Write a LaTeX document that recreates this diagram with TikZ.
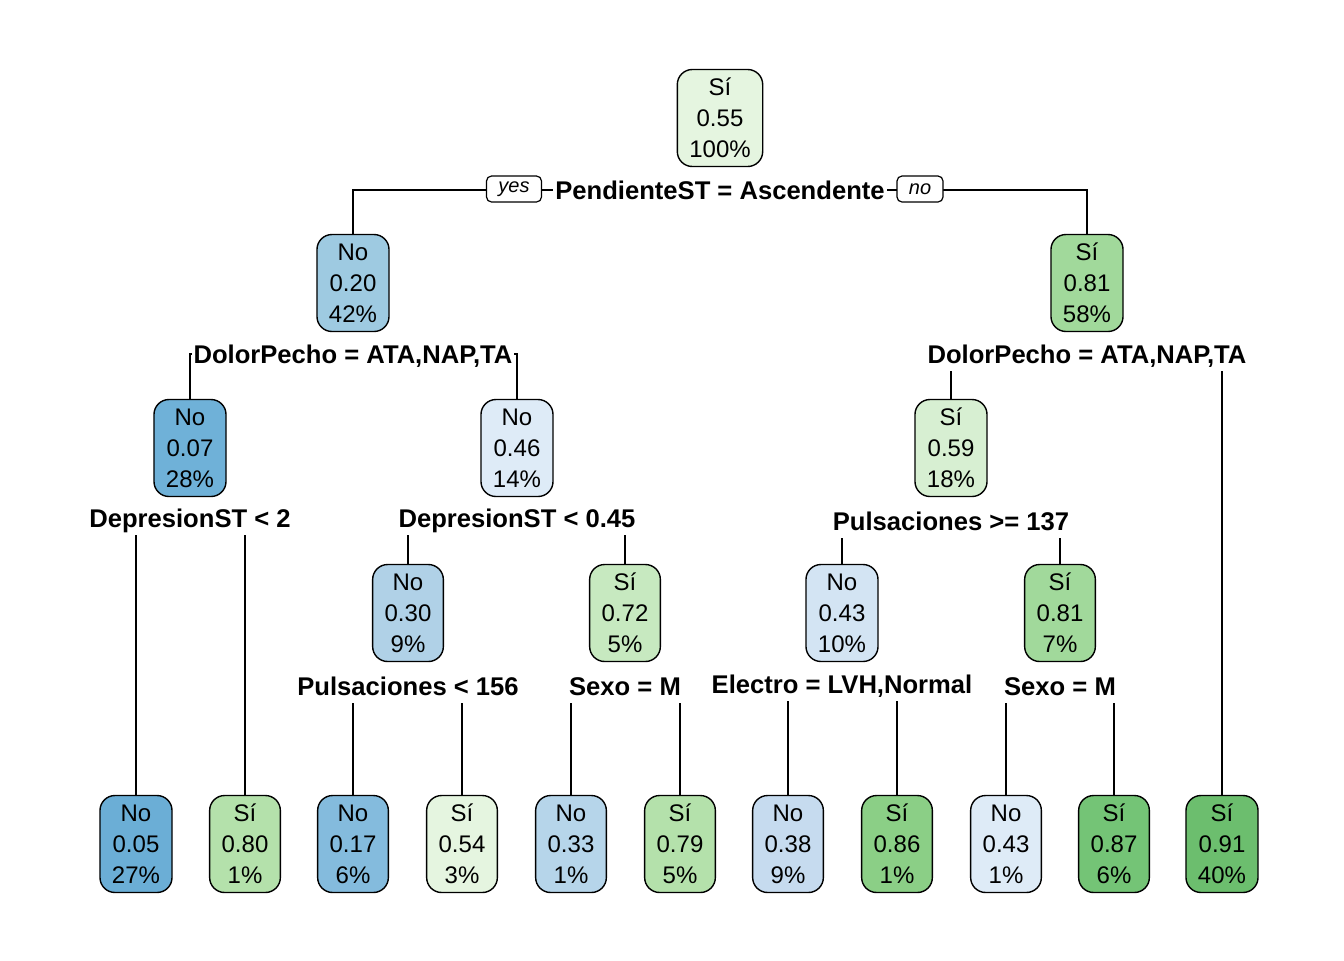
\documentclass[tikz,border=0pt]{standalone}
\usepackage{fontspec}
\setmainfont{Liberation Sans}
\usetikzlibrary{backgrounds}
% blues for No, greens for Si
\definecolor{bA}{RGB}{107,174,214}
\definecolor{bB}{RGB}{111,177,216}
\definecolor{bC}{RGB}{132,187,221}
\definecolor{bD}{RGB}{158,202,225}
\definecolor{bE}{RGB}{176,209,231}
\definecolor{bF}{RGB}{182,213,234}
\definecolor{bG}{RGB}{198,219,239}
\definecolor{bH}{RGB}{211,228,243}
\definecolor{bI}{RGB}{222,235,247}
\definecolor{gA}{RGB}{229,245,224}
\definecolor{gB}{RGB}{215,239,210}
\definecolor{gC}{RGB}{199,233,192}
\definecolor{gD}{RGB}{180,225,171}
\definecolor{gE}{RGB}{161,217,155}
\definecolor{gF}{RGB}{139,207,134}
\definecolor{gG}{RGB}{116,196,118}
\definecolor{gH}{RGB}{108,190,110}

\begin{document}
\begin{tikzpicture}[line cap=round,line join=round,x=0.5pt,y=-0.5pt,
  box/.style={draw,line width=0.7pt,rounded corners=7.5pt,align=center,
    inner xsep=6pt,minimum height=48.5pt,font=\fontsize{12}{15.5}\selectfont},
  split/.style={fill=white,inner xsep=1pt,inner ysep=4pt,text height=9.2pt,
    text depth=0pt,font=\fontsize{12.8}{15}\selectfont\bfseries},
  yn/.style={draw,fill=white,line width=0.6pt,rounded corners=2.5pt,
    minimum height=13pt,inner sep=0pt,font=\fontsize{10}{12}\selectfont\itshape},
  branch/.style={line width=0.6pt}]
\useasboundingbox (0,0) rectangle (1344,960);

% inner nodes
\node[box,fill=gA] (n1) at (720,118) {Sí\\0.55\\100\%};
\node[box,fill=bD] (n2) at (353,283) {No\\0.20\\42\%};
\node[box,fill=gE] (n3) at (1087,283) {Sí\\0.81\\58\%};
\node[box,fill=bB] (n4) at (190,448) {No\\0.07\\28\%};
\node[box,fill=bI] (n5) at (517,448) {No\\0.46\\14\%};
\node[box,fill=gB] (n6) at (951,448) {Sí\\0.59\\18\%};
\node[box,fill=bE] (n10) at (408,613) {No\\0.30\\9\%};
\node[box,fill=gC] (n11) at (625,613) {Sí\\0.72\\5\%};
\node[box,fill=bH] (n12) at (842,613) {No\\0.43\\10\%};
\node[box,fill=gE] (n13) at (1060,613) {Sí\\0.81\\7\%};

% leaves
\node[box,fill=bA] (l8) at (136,844) {No\\0.05\\27\%};
\node[box,fill=gD] (l9) at (245,844) {Sí\\0.80\\1\%};
\node[box,fill=bC] (l20) at (353,844) {No\\0.17\\6\%};
\node[box,fill=gA] (l21) at (462,844) {Sí\\0.54\\3\%};
\node[box,fill=bF] (l22) at (571,844) {No\\0.33\\1\%};
\node[box,fill=gD] (l23) at (680,844) {Sí\\0.79\\5\%};
\node[box,fill=bG] (l24) at (788,844) {No\\0.38\\9\%};
\node[box,fill=gF] (l25) at (897,844) {Sí\\0.86\\1\%};
\node[box,fill=bI] (l26) at (1006,844) {No\\0.43\\1\%};
\node[box,fill=gG] (l27) at (1114,844) {Sí\\0.87\\6\%};
\node[box,fill=gH] (l7) at (1222,844) {Sí\\0.91\\40\%};

% split labels
\node[split] (s1) at (720,190) {PendienteST = Ascendente};
\node[split] (s2) at (353,354) {DolorPecho = ATA,NAP,TA};
\node[split] (s3) at (1087,354) {DolorPecho = ATA,NAP,TA};
\node[split] (s4) at (190,518) {DepresionST < 2};
\node[split] (s5) at (517,518) {DepresionST < 0.45};
\node[split] (s6) at (951,521) {Pulsaciones >= 137};
\node[split] (s10) at (408,686) {Pulsaciones < 156};
\node[split] (s11) at (625,686) {Sexo = M};
\node[split] (s12) at (842,684) {Electro = LVH,Normal};
\node[split] (s13) at (1060,686) {Sexo = M};

\node[yn,minimum width=27.5pt] (yes) at (514,189) {yes};
\node[yn,minimum width=23pt] (no) at (920,189) {no};

\begin{scope}[on background layer]
\draw[branch] (s1.center) -| (n2.north);
\draw[branch] (s1.center) -| (n3.north);
\draw[branch] (s2.center) -| (n4.north);
\draw[branch] (s2.center) -| (n5.north);
\draw[branch] (s3.center) -| (n6.north);
\draw[branch] (s3.center) -| (l7.north);
\draw[branch] (s4.center) -| (l8.north);
\draw[branch] (s4.center) -| (l9.north);
\draw[branch] (s5.center) -| (n10.north);
\draw[branch] (s5.center) -| (n11.north);
\draw[branch] (s6.center) -| (n12.north);
\draw[branch] (s6.center) -| (n13.north);
\draw[branch] (s10.center) -| (l20.north);
\draw[branch] (s10.center) -| (l21.north);
\draw[branch] (s11.center) -| (l22.north);
\draw[branch] (s11.center) -| (l23.north);
\draw[branch] (s12.center) -| (l24.north);
\draw[branch] (s12.center) -| (l25.north);
\draw[branch] (s13.center) -| (l26.north);
\draw[branch] (s13.center) -| (l27.north);
\end{scope}
\end{tikzpicture}
\end{document}
